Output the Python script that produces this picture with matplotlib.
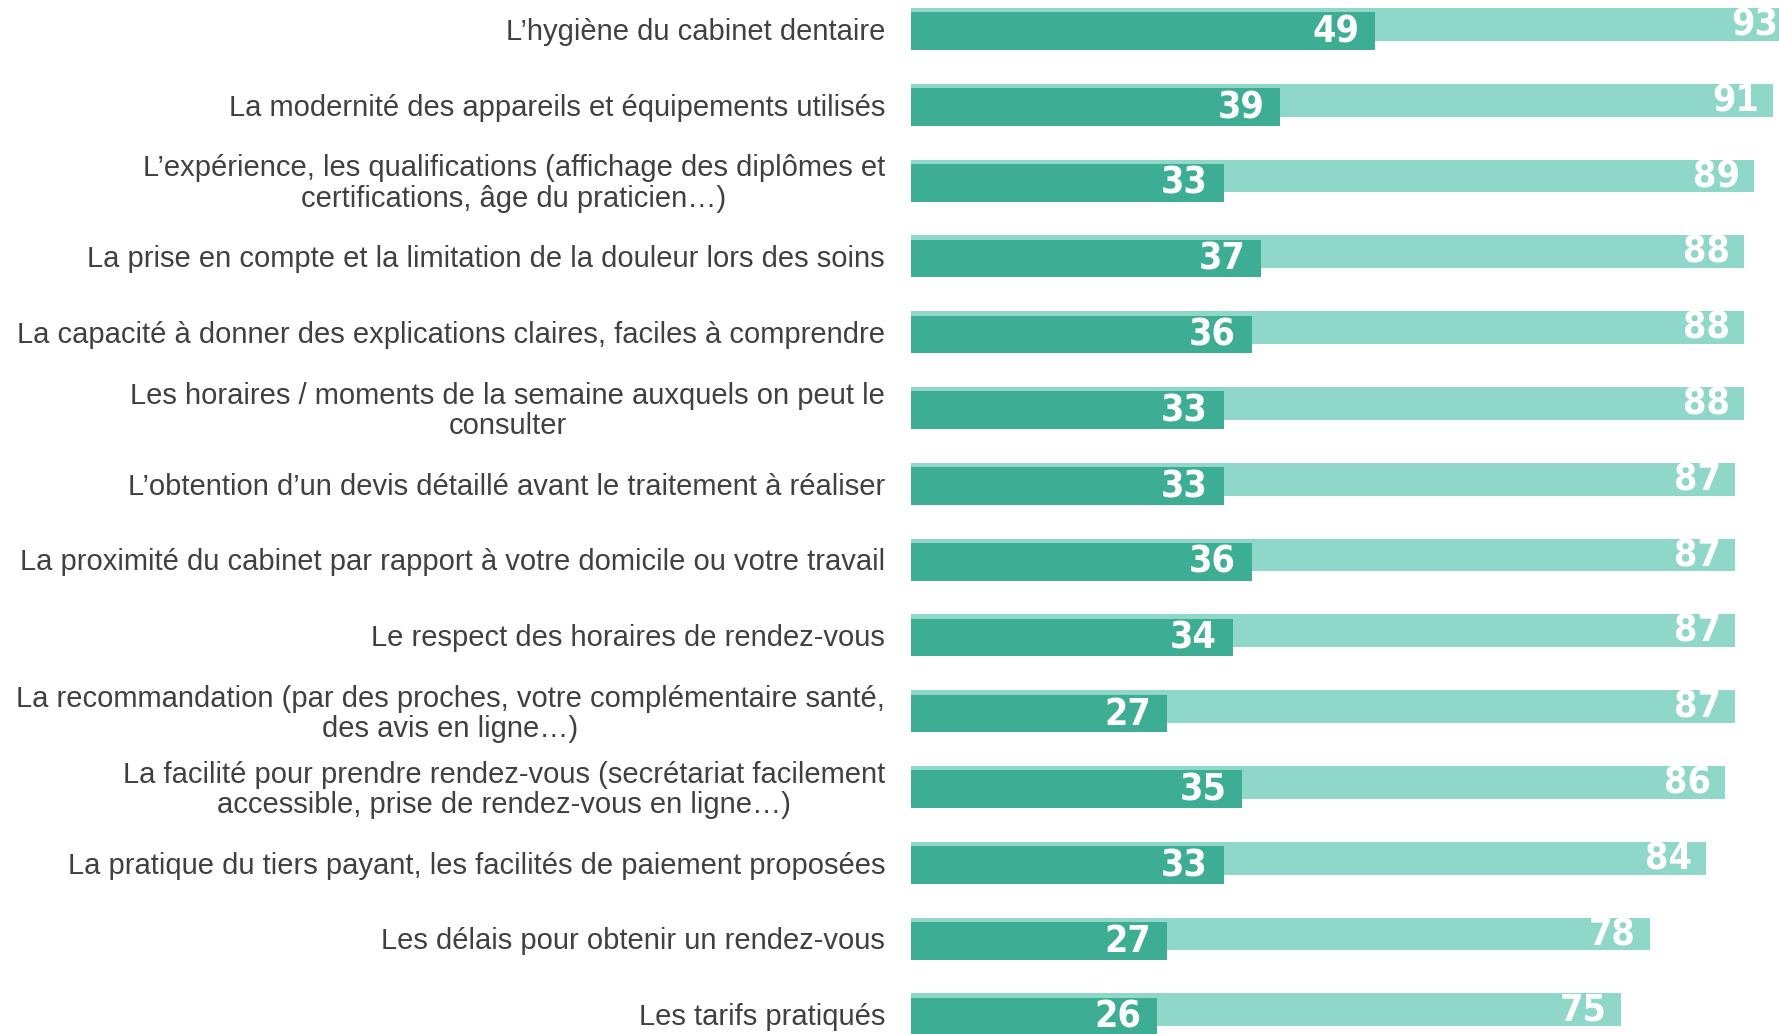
import matplotlib
matplotlib.use('Agg')
import matplotlib.pyplot as plt
from matplotlib import font_manager

# Survey items (top to bottom)
labels = [
    "L\u2019hygiène du cabinet dentaire",
    "La modernité des appareils et équipements utilisés",
    "L\u2019expérience, les qualifications (affichage des diplômes et\ncertifications, âge du praticien\u2026)",
    "La prise en compte et la limitation de la douleur lors des soins",
    "La capacité à donner des explications claires, faciles à comprendre",
    "Les horaires / moments de la semaine auxquels on peut le\nconsulter",
    "L\u2019obtention d\u2019un devis détaillé avant le traitement à réaliser",
    "La proximité du cabinet par rapport à votre domicile ou votre travail",
    "Le respect des horaires de rendez-vous",
    "La recommandation (par des proches, votre complémentaire santé,\ndes avis en ligne\u2026)",
    "La facilité pour prendre rendez-vous (secrétariat facilement\naccessible, prise de rendez-vous en ligne\u2026)",
    "La pratique du tiers payant, les facilités de paiement proposées",
    "Les délais pour obtenir un rendez-vous",
    "Les tarifs pratiqués",
]
total_values = [93, 91, 89, 88, 88, 88, 87, 87, 87, 87, 86, 84, 78, 75]
top_values = [49, 39, 33, 37, 36, 33, 33, 36, 34, 27, 35, 33, 27, 26]

dark = '#3dae94'
light = '#8fd7c8'

names = {f.name for f in font_manager.fontManager.ttflist}
if 'Liberation Sans Narrow' in names:
    num_kw = dict(family='Liberation Sans Narrow')
else:
    num_kw = dict(family='DejaVu Sans', fontstretch='condensed')

W, H = 1779, 1034
fig = plt.figure(figsize=(W / 100, H / 100), dpi=100)

# axes placed so that 0 sits at x=911px and rows are 75.8px apart
x0_px, px_per_unit = 911, 9.47
pitch = 75.8
first_row_px = 27.8
ax = fig.add_axes([x0_px / W, 0, 1 - x0_px / W, 1])
ax.set_xlim(0, (W - x0_px) / px_per_unit)
ax.set_ylim(13 + (H - first_row_px - 13 * pitch) / pitch, -first_row_px / pitch)
ax.axis('off')

ys = list(range(len(labels)))
shift = 0.045
ax.barh([y - shift for y in ys], total_values, height=0.435, color=light)
ax.barh([y + shift for y in ys], top_values, height=0.495, color=dark)

for y, lab, tv, dv in zip(ys, labels, total_values, top_values):
    ax.annotate(lab, xy=(0, y), xytext=(-26, -4), textcoords='offset pixels',
                ha='right', va='center', multialignment='center',
                fontsize=21, color='#404040', family='Liberation Sans',
                linespacing=1.1, annotation_clip=False)
    ax.annotate(str(tv), xy=(tv, y - shift + 0.015), xytext=(-14, 0),
                textcoords='offset pixels', ha='right', va='center',
                fontsize=27, fontweight='bold', color='white',
                annotation_clip=False, **num_kw)
    ax.annotate(str(dv), xy=(dv, y + shift + 0.015), xytext=(-16, 0),
                textcoords='offset pixels', ha='right', va='center',
                fontsize=27, fontweight='bold', color='white',
                annotation_clip=False, **num_kw)

plt.savefig('out.png', dpi=100)
